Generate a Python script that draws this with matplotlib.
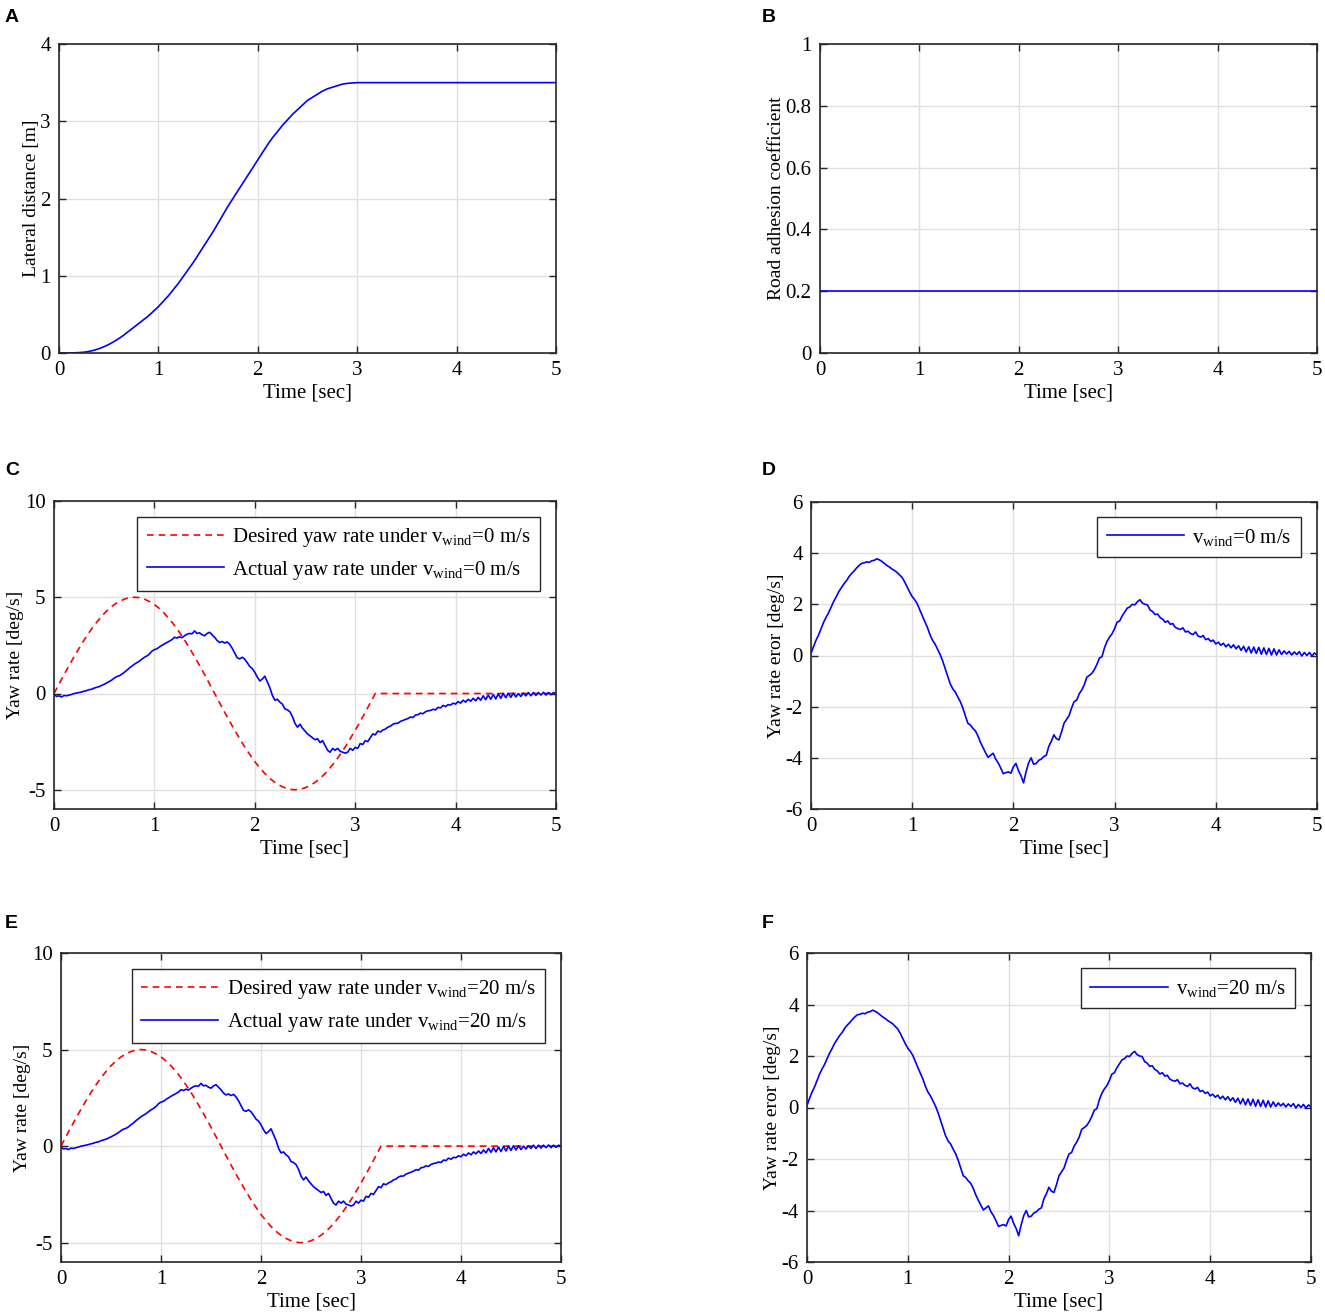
import numpy as np
import matplotlib
matplotlib.use('Agg')
import matplotlib.pyplot as plt
from matplotlib.ticker import FuncFormatter

plt.rcParams['font.family'] = ['Liberation Serif', 'DejaVu Serif']
plt.rcParams['mathtext.fontset'] = 'custom'
plt.rcParams['mathtext.rm'] = 'Liberation Serif'
plt.rcParams['mathtext.it'] = 'Liberation Serif:italic'
plt.rcParams['axes.unicode_minus'] = False

# ---- data ----
# lateral distance (A), every 0.05 s from 0 to 3 s, then flat to 5 s
lat_dist = [0.0, 0.0, 0.0, 0.002, 0.005, 0.01, 0.02, 0.035, 0.055, 0.08,
            0.11, 0.145, 0.185, 0.23, 0.28, 0.33, 0.38, 0.43, 0.48, 0.54,
            0.6, 0.67, 0.74, 0.82, 0.9, 0.99, 1.08, 1.17, 1.27, 1.37,
            1.47, 1.57, 1.68, 1.79, 1.9, 2.0, 2.1, 2.2, 2.3, 2.4,
            2.5, 2.6, 2.7, 2.79, 2.87, 2.95, 3.02, 3.09, 3.15, 3.21,
            3.27, 3.31, 3.35, 3.39, 3.42, 3.44, 3.46, 3.48, 3.49, 3.495,
            3.5, 3.5]

# road adhesion coefficient (B)
mu_t = [0.0, 5.0]
mu = [0.2, 0.2]

# desired yaw rate, every 0.05 s from 0 to 3.2 s, then zero until 5 s
desired = [0, 0.49, 0.98, 1.45, 1.91, 2.35, 2.78, 3.17, 3.54, 3.86, 4.16, 4.41, 4.62,
           4.78, 4.90, 4.98, 5.0, 4.98, 4.90, 4.78, 4.62, 4.41, 4.16, 3.86, 3.54, 3.17,
           2.78, 2.35, 1.91, 1.45, 0.98, 0.49, 0, -0.49, -0.98, -1.45, -1.91, -2.35,
           -2.78, -3.17, -3.54, -3.86, -4.16, -4.41, -4.62, -4.78, -4.90, -4.98, -5.0,
           -4.98, -4.90, -4.78, -4.62, -4.41, -4.16, -3.86, -3.54, -3.17, -2.78, -2.35,
           -1.91, -1.45, -0.98, -0.49, 0, 0]

# actual yaw rate, every 0.025 s
actual = [
    -0.05, -0.15, -0.12, -0.18, -0.10, -0.12, -0.08, -0.05, 0.00, 0.02,
    0.05, 0.08, 0.12, 0.15, 0.20, 0.22, 0.28, 0.32, 0.36, 0.42,
    0.48, 0.55, 0.62, 0.70, 0.80, 0.88, 0.92, 1.00, 1.10, 1.20,
    1.32, 1.42, 1.52, 1.60, 1.68, 1.78, 1.88, 1.95, 2.05, 2.20,
    2.28, 2.32, 2.42, 2.50, 2.58, 2.65, 2.72, 2.80, 2.92, 2.88,
    2.95, 2.90, 3.00, 3.08, 3.12, 3.10, 3.25, 3.12, 3.15, 3.05,
    3.00, 3.12, 3.18, 3.05, 2.92, 2.75, 2.65, 2.70, 2.62, 2.68,
    2.55, 2.35, 2.10, 1.85, 1.80, 1.88, 1.78, 1.60, 1.40, 1.30,
    1.10, 0.85, 0.65, 0.75, 0.90, 0.60, 0.30, -0.10, -0.35, -0.30,
    -0.45, -0.55, -0.80, -0.85, -0.95, -1.20, -1.55, -1.75, -1.60, -1.80,
    -1.95, -2.10, -2.20, -2.30, -2.40, -2.35, -2.55, -2.45, -2.70, -2.95,
    -3.05, -2.85, -2.95, -2.85, -3.00, -3.05, -3.10, -3.05, -2.85, -2.95,
    -2.80, -2.85, -2.60, -2.65, -2.45, -2.50, -2.30, -2.10, -2.15, -1.95,
    -2.00, -1.90, -1.85, -1.75, -1.70, -1.60, -1.55, -1.55, -1.45, -1.40,
    -1.35, -1.30, -1.22, -1.25, -1.12, -1.10, -1.02, -1.05, -0.95, -0.90,
    -0.88, -0.82, -0.85, -0.72, -0.75, -0.62, -0.68, -0.58, -0.60, -0.50,
    -0.55, -0.42, -0.50, -0.35, -0.45, -0.30, -0.40, -0.25, -0.38, -0.20,
    -0.35, -0.12, -0.32, -0.08, -0.30, -0.05, -0.28, -0.02, -0.25, 0.00,
    -0.22, 0.02, -0.20, 0.02, -0.18, 0.00, -0.15, 0.02, -0.12, 0.05,
    -0.12, 0.05, -0.10, 0.05, -0.08, 0.06, -0.08, 0.05, -0.06, 0.05,
    -0.02]

# yaw rate error, every 0.025 s
error = [
    0.08, 0.35, 0.60, 0.80, 1.05, 1.30, 1.50, 1.68, 1.90, 2.12,
    2.30, 2.50, 2.65, 2.80, 2.92, 3.08, 3.20, 3.30, 3.42, 3.52,
    3.60, 3.62, 3.66, 3.64, 3.70, 3.72, 3.78, 3.74, 3.68, 3.60,
    3.52, 3.46, 3.38, 3.32, 3.25, 3.15, 3.05, 2.88, 2.68, 2.48,
    2.30, 2.18, 2.02, 1.78, 1.55, 1.32, 1.10, 0.82, 0.60, 0.45,
    0.25, 0.05, -0.20, -0.50, -0.80, -1.10, -1.30, -1.42, -1.62, -1.80,
    -2.05, -2.35, -2.65, -2.72, -2.85, -2.95, -3.15, -3.40, -3.60, -3.80,
    -3.98, -3.90, -3.82, -4.05, -4.20, -4.40, -4.62, -4.58, -4.55, -4.60,
    -4.35, -4.22, -4.50, -4.70, -4.98, -4.55, -4.20, -4.00, -4.25, -4.22,
    -4.10, -4.05, -3.95, -3.90, -3.55, -3.35, -3.10, -3.25, -3.30, -3.00,
    -2.65, -2.50, -2.35, -2.05, -1.80, -1.75, -1.50, -1.35, -1.15, -0.85,
    -0.78, -0.70, -0.55, -0.35, -0.10, -0.05, 0.30, 0.55, 0.72, 0.85,
    1.05, 1.30, 1.35, 1.55, 1.70, 1.85, 1.90, 2.00, 1.98, 2.10,
    2.18, 2.05, 2.00, 1.98, 1.78, 1.72, 1.60, 1.62, 1.48, 1.42,
    1.30, 1.35, 1.22, 1.25, 1.10, 1.05, 1.02, 1.08, 0.92, 0.95,
    0.86, 0.82, 0.92, 0.76, 0.72, 0.78, 0.62, 0.66, 0.55, 0.60,
    0.45, 0.52, 0.40, 0.48, 0.34, 0.44, 0.30, 0.42, 0.26, 0.38,
    0.20, 0.36, 0.14, 0.34, 0.10, 0.33, 0.08, 0.32, 0.05, 0.30,
    0.04, 0.28, 0.02, 0.26, 0.02, 0.22, 0.04, 0.18, 0.06, 0.16,
    0.02, 0.14, 0.04, 0.15, -0.02, 0.12, 0.00, 0.12, -0.02, 0.10,
    0.02]

lat_t = list(np.linspace(0, 3.0, len(lat_dist) - 1)) + [5.0]
t_fine = np.linspace(0, 5, len(actual))
t_des = list(np.linspace(0, 3.2, len(desired) - 1)) + [5.0]

W, H = 1325, 1315
fig = plt.figure(figsize=(W / 100, H / 100), dpi=100)


def px_axes(x0, y0, x1, y1):
    return fig.add_axes([x0 / W, 1 - y1 / H, (x1 - x0) / W, (y1 - y0) / H])


def style(ax, ylim, yticks, ylabel, ylx):
    ax.set_xlim(0, 5)
    ax.set_ylim(*ylim)
    ax.set_xticks(range(6))
    ax.set_yticks(yticks)
    ax.yaxis.set_major_formatter(FuncFormatter(lambda v, p: '%g' % v))
    ax.grid(True, color='#e0e0e0', lw=1.0)
    ax.set_axisbelow(True)
    ax.tick_params(direction='in', top=True, right=True, length=5, width=1,
                   labelsize=15, pad=6, color='#262626')
    for s in ax.spines.values():
        s.set_color('#262626')
        s.set_linewidth(1.2)
    ax.set_xlabel('Time [sec]', fontsize=15, va='center')
    ax.set_ylabel(ylabel, fontsize=14, va='center')
    ax.yaxis.set_label_coords(ylx, 0.5)
    ax.xaxis.set_label_coords(0.5, -0.13)


def panel_letter(x, y, s):
    fig.text(x / W, 1 - y / H, s, fontsize=14, fontweight='bold',
             family='Liberation Sans', va='baseline', ha='left')


leg_kw = dict(loc='upper right', fontsize=15, handlelength=3.7, handletextpad=0.4,
              borderpad=0.45, labelspacing=0.45, fancybox=False, framealpha=1,
              edgecolor='#262626')

# A
ax = px_axes(59, 44, 556, 353)
ax.plot(lat_t, lat_dist, color='#0000ff', lw=1.2)
style(ax, (0, 4), range(5), 'Lateral distance [m]', -0.055)
panel_letter(5, 22, 'A')

# B
ax = px_axes(820, 44, 1317, 353)
ax.plot(mu_t, mu, color='#0000ff', lw=1.2)
style(ax, (0, 1), [0, 0.2, 0.4, 0.6, 0.8, 1.0], 'Road adhesion coefficient', -0.088)
panel_letter(762, 22, 'B')

# C and E
for (x0, y0, x1, y1), wind, lx, ly in [((54, 501, 556, 809), 0, 5, 475),
                                      ((61, 953, 561, 1262), 20, 5, 928)]:
    ax = px_axes(x0, y0, x1, y1)
    ax.plot(t_des, desired, color='#ff0000', lw=1.2, ls=(0, (4, 3)),
            label=r'Desired yaw rate under v$_{\mathrm{wind}}$=%d m/s' % wind)
    ax.plot(t_fine, actual, color='#0000ff', lw=1.2,
            label=r'Actual yaw rate under v$_{\mathrm{wind}}$=%d m/s' % wind)
    style(ax, (-6, 10), [-5, 0, 5, 10], 'Yaw rate [deg/s]', -0.076)
    ax.legend(bbox_to_anchor=(0.968, 0.948), borderaxespad=0, **leg_kw)
    panel_letter(lx, ly, 'C' if wind == 0 else 'E')

# D and F
for (x0, y0, x1, y1), wind, lx, ly in [((811, 502, 1317, 809), 0, 762, 475),
                                      ((807, 953, 1311, 1262), 20, 762, 928)]:
    ax = px_axes(x0, y0, x1, y1)
    ax.plot(t_fine, error, color='#0000ff', lw=1.2,
            label=r'v$_{\mathrm{wind}}$=%d m/s' % wind)
    style(ax, (-6, 6), [-6, -4, -2, 0, 2, 4, 6], 'Yaw rate eror [deg/s]', -0.069)
    ax.legend(bbox_to_anchor=(0.968, 0.95), borderaxespad=0, **leg_kw)
    panel_letter(lx, ly, 'D' if wind == 0 else 'F')

fig.savefig('out.png', dpi=100)
